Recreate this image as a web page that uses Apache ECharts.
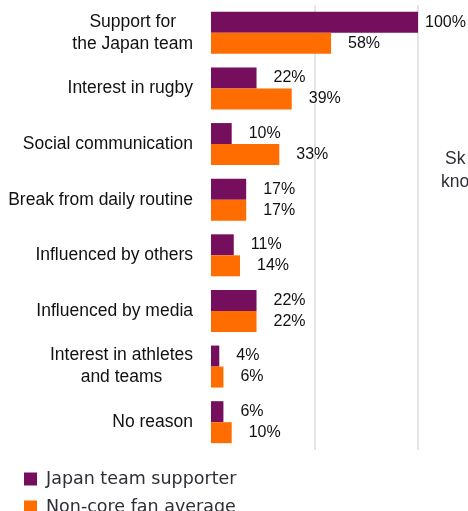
<!DOCTYPE html>
<html>
<head>
<meta charset="utf-8">
<script src="https://cdn.jsdelivr.net/npm/echarts@6/dist/echarts.min.js"></script>
<style>html,body{margin:0;padding:0;background:#fff;}#c{width:468px;height:511px;}</style>
</head>
<body>
<div id="c"></div>
<script>
const categories = ['Support for\nthe Japan team','Interest in rugby','Social communication','Break from daily routine','Influenced by others','Influenced by media','Interest in athletes\nand teams','No reason'];
const japanSupporter = [100,22,10,17,11,22,4,6];
const nonCoreFan = [58,39,33,17,14,22,6,10];
const seriesNames = ['Japan team supporter','Non-core fan average'];

const chart = echarts.init(document.getElementById('c'), null, {renderer:'canvas'});
const labelFont = 'Liberation Sans, Arial, sans-serif';
function mkLabel(){
  return {show:true, position:'right', distance:17, formatter:'{c}%', fontSize:16, fontFamily:labelFont, color:'#111'};
}
chart.setOption({
  animation:false,
  grid:{left:211, right:50, top:5, height:445, containLabel:false},
  xAxis:{type:'value', min:0, max:100, interval:50,
    axisLabel:{show:false}, axisLine:{show:false}, axisTick:{show:false},
    splitLine:{show:true, lineStyle:{color:['rgba(0,0,0,0)','#dcdcdc','#dcdcdc'], width:1.5}}},
  yAxis:{type:'category', inverse:true, data:categories,
    axisLine:{show:false}, axisTick:{show:false},
    axisLabel:{margin:18, fontSize:17.5, fontFamily:labelFont, color:'#111', lineHeight:22,
      formatter:function(v){return v.split('\n').map(s=>'{c|'+s+'}').join('\n');},
      rich:{c:{align:'center', fontSize:17.5, fontFamily:labelFont, color:'#111', lineHeight:22}}}},
  legend:{orient:'vertical', left:19, top:465, height:80, width:300, itemWidth:13, itemHeight:13, itemGap:10,
    icon:'rect', data:seriesNames,
    textStyle:{fontSize:17.5, fontFamily:'DejaVu Sans, sans-serif', color:'#2e2e38', padding:[0,0,0,4]}},
  series:[
    {name:seriesNames[0], type:'bar', barGap:'0%', barCategoryGap:'24.5%',
     itemStyle:{color:'#750E5C'}, label:mkLabel(),
     data:japanSupporter.map(v=> v===100 ? {value:v, label:{distance:7}} : v)},
    {name:seriesNames[1], type:'bar', barGap:'0%', barCategoryGap:'24.5%',
     itemStyle:{color:'#FF6D00'}, label:mkLabel(), data:nonCoreFan}
  ],
  graphic:[
    {type:'text', left:445, top:150, style:{text:'Sk', fontSize:17.5, fontFamily:labelFont, fill:'#2e2e38'}},
    {type:'text', left:441, top:173, style:{text:'kno', fontSize:17.5, fontFamily:labelFont, fill:'#2e2e38'}}
  ]
});
</script>
</body>
</html>
